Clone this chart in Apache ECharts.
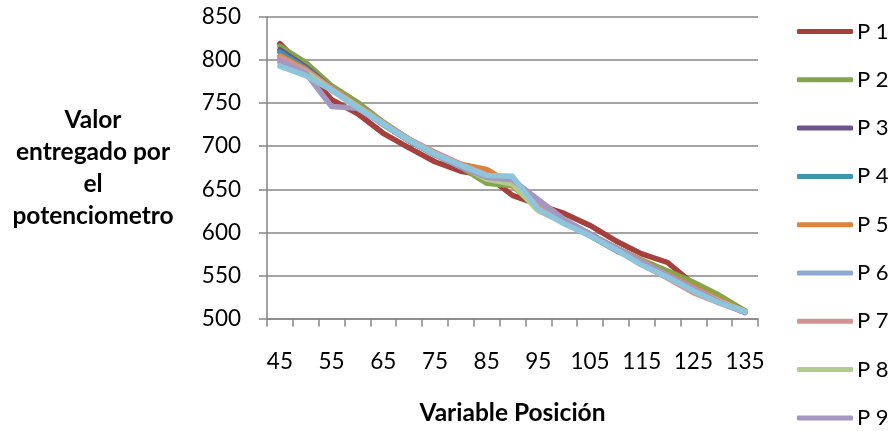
<!DOCTYPE html>
<html>
<head>
<meta charset="utf-8">
<script src="https://cdn.jsdelivr.net/npm/echarts@6/dist/echarts.min.js"></script>
<style>
  html, body { margin: 0; padding: 0; background: #fff; }
  #chart { width: 894px; height: 431px; }
</style>
</head>
<body>
<div id="chart"></div>
<script>
// Position steps along the x axis
const positions = ['45','50','55','60','65','70','75','80','85','90','95','100','105','110','115','120','125','130','135'];

// Potentiometer readings for each trial
const p1  = [819, 789, 754, 738, 715, 698, 682, 671, 666, 643, 632, 622, 608, 590, 575, 565, 540, 525, 508];
const p2  = [816, 797, 770, 751, 728, 708, 692, 676, 657, 654, 628, 613, 598, 582, 568, 555, 542, 527, 509];
const p3  = [812, 792, 767, 747, 726, 707, 691, 677, 665, 660, 630, 612, 597, 581, 566, 550, 536, 521, 508];
const p4  = [809, 790, 766, 746, 725, 706, 690, 676, 666, 660, 629, 611, 596, 579, 565, 549, 535, 520, 507];
const p5  = [805, 789, 767, 747, 727, 708, 692, 679, 673, 655, 628, 613, 598, 582, 567, 551, 537, 522, 508];
const p6  = [801, 787, 766, 746, 726, 707, 691, 677, 664, 659, 631, 614, 598, 582, 566, 550, 535, 520, 508];
const p7  = [803, 788, 767, 747, 727, 708, 693, 679, 667, 660, 630, 613, 597, 580, 563, 547, 530, 518, 507];
const p8  = [797, 786, 765, 746, 726, 707, 691, 677, 662, 656, 625, 611, 597, 581, 565, 549, 534, 520, 508];
const p9  = [799, 785, 746, 744, 726, 707, 690, 676, 664, 661, 638, 615, 598, 582, 566, 550, 535, 519, 507];
const p10 = [793, 782, 765, 745, 726, 707, 691, 678, 666, 665, 627, 610, 596, 580, 562, 548, 532, 518, 508];

const seriesNames = ['P 1','P 2','P 3','P 4','P 5','P 6','P 7','P 8','P 9','P 10'];
const seriesData = [p1, p2, p3, p4, p5, p6, p7, p8, p9, p10];
const colors = ['#A5403D','#86A44A','#6E548D','#3D96AE','#DB843D','#8EA9D3','#D09392','#B3CB8F','#A497C0','#8EC5DA'];

const FONT = 'Lato, "Open Sans", sans-serif';
const axisGrey = '#868686';

// One legend entry per row, stacked down the right-hand side
const legendNames = seriesNames.slice(0, 9);
const legends = legendNames.map((n, i) => ({
  type: 'plain',
  orient: 'vertical',
  left: 797,
  top: 20.5 + i * 48.3,
  padding: 0,
  data: [n],
  icon: 'roundRect',
  itemWidth: 56,
  itemHeight: 5,
  textStyle: { fontFamily: FONT, fontSize: 22, color: '#000', padding: [0, 0, 0, -1] }
}));

const chart = echarts.init(document.getElementById('chart'), null, { renderer: 'canvas' });

chart.setOption({
  animation: false,
  backgroundColor: '#ffffff',
  color: colors,
  grid: { left: 267, right: 136, top: 17, bottom: 108, containLabel: false },
  legend: legends,
  xAxis: {
    type: 'category',
    data: positions,
    boundaryGap: true,
    name: 'Variable Posición',
    nameLocation: 'middle',
    nameGap: 95,
    nameTextStyle: { fontFamily: FONT, fontSize: 24.5, fontWeight: 'bold', color: '#000', verticalAlign: 'middle' },
    axisLine: { show: true, lineStyle: { color: axisGrey, width: 1.5 } },
    axisTick: { show: true, interval: 0, length: 8, lineStyle: { color: axisGrey, width: 1.5 } },
    axisLabel: { interval: 1, margin: 32, fontFamily: FONT, fontSize: 22.5, color: '#000' },
    splitLine: { show: false }
  },
  yAxis: {
    type: 'value',
    min: 500,
    max: 850,
    interval: 50,
    name: 'Valor\nentregado por\nel\npotenciometro',
    nameLocation: 'middle',
    nameRotate: 0,
    nameGap: 174,
    nameTextStyle: { fontFamily: FONT, fontSize: 24.5, fontWeight: 'bold', color: '#000', align: 'center', verticalAlign: 'middle', lineHeight: 32, padding: [6, 0, 0, 0] },
    axisLine: { show: true, lineStyle: { color: axisGrey, width: 1.5 } },
    axisTick: { show: true, length: 8, lineStyle: { color: axisGrey, width: 1.5 } },
    axisLabel: { margin: 26, fontFamily: FONT, fontSize: 22.5, color: '#000' },
    splitLine: { show: true, lineStyle: { color: axisGrey, width: 1.5 } }
  },
  series: seriesData.map((d, i) => ({
    name: seriesNames[i],
    type: 'line',
    data: d,
    showSymbol: false,
    symbol: 'none',
    smooth: false,
    lineStyle: { width: 5.5, color: colors[i], join: 'round', cap: 'round' },
    itemStyle: { color: colors[i] },
    z: 2 + i
  }))
});
</script>
</body>
</html>
